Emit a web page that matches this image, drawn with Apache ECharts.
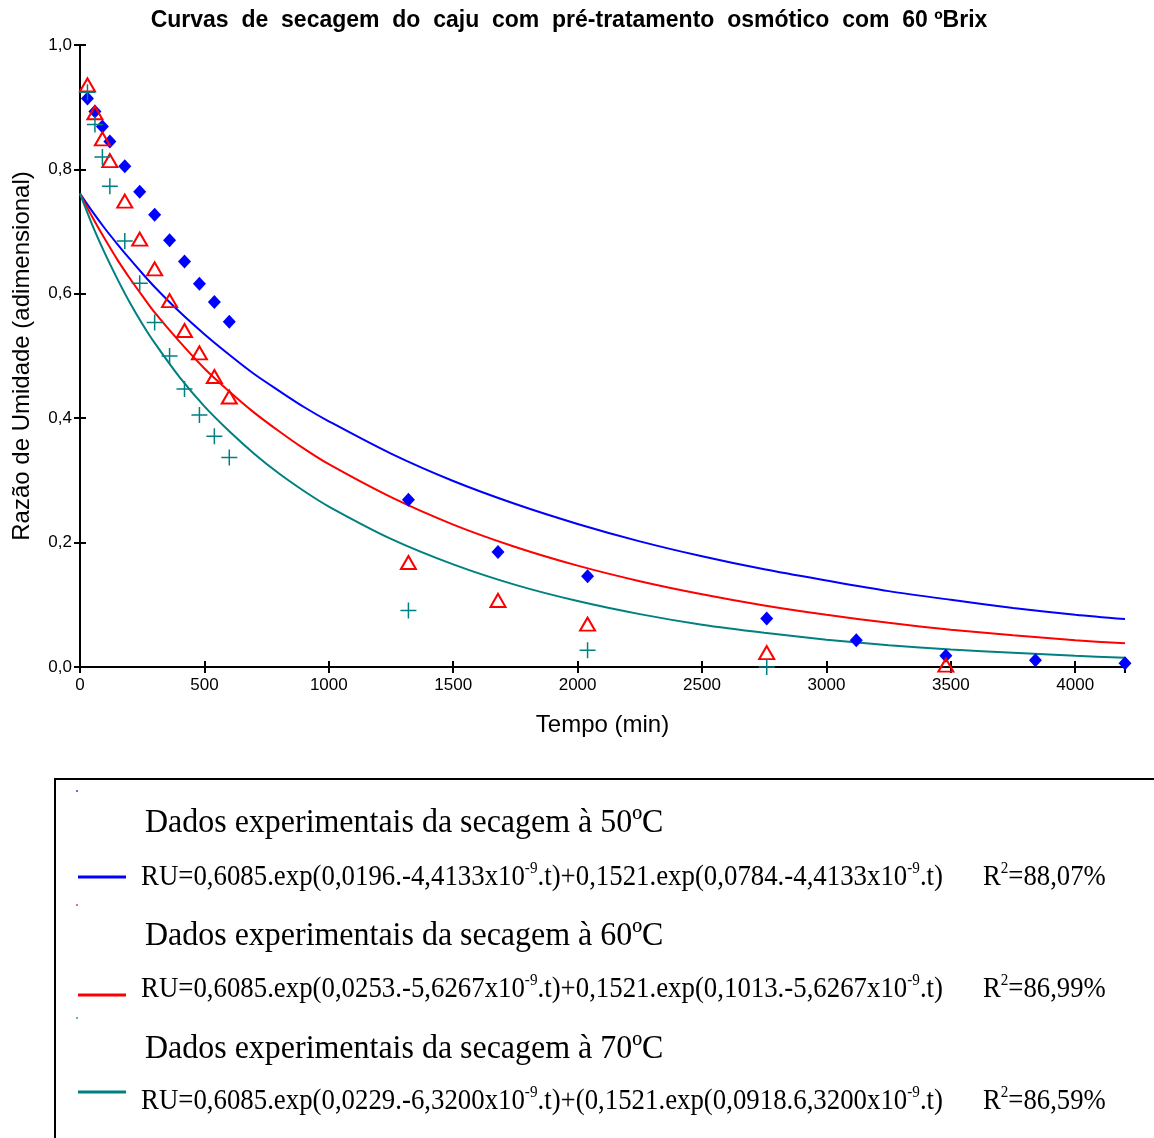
<!DOCTYPE html>
<html>
<head>
<meta charset="utf-8">
<script src="https://cdn.jsdelivr.net/npm/echarts@6/dist/echarts.min.js"></script>
<style>
html,body{margin:0;padding:0;background:#ffffff;}
#c{width:1154px;height:1138px;}
</style>
</head>
<body>
<div id="c"></div>
<script>
const times50 = [30,60,90,120,180,240,300,360,420,480,540,600,1320,1680,2040,2760,3120,3480,3840,4200];
const ru50    = [0.914,0.893,0.869,0.845,0.805,0.764,0.727,0.686,0.652,0.616,0.587,0.555,0.269,0.185,0.146,0.078,0.043,0.018,0.011,0.006];

const times60 = [30,60,90,120,180,240,300,360,420,480,540,600,1320,1680,2040,2760,3480];
const ru60    = [0.936,0.891,0.849,0.814,0.749,0.688,0.640,0.589,0.541,0.505,0.467,0.434,0.168,0.107,0.069,0.023,0.003];

const times70 = [30,60,90,120,180,240,300,360,420,480,540,600,1320,2040,2760];
const ru70    = [0.924,0.872,0.820,0.773,0.685,0.617,0.554,0.500,0.447,0.405,0.371,0.337,0.091,0.027,0.0];

// ---- Fitted curves ----
const curveTimes = [0,50,100,150,200,250,300,400,500,600,700,800,900,1000,1250,1500,1750,2000,2250,2500,2750,3000,3250,3500,3750,4000,4200];
const fit50 = [0.761,0.732,0.705,0.680,0.656,0.633,0.611,0.571,0.535,0.502,0.471,0.444,0.418,0.395,0.343,0.299,0.262,0.230,0.202,0.178,0.157,0.139,0.122,0.108,0.095,0.084,0.077];
const fit60 = [0.761,0.723,0.688,0.655,0.625,0.597,0.570,0.523,0.480,0.443,0.409,0.379,0.351,0.326,0.273,0.229,0.193,0.163,0.138,0.117,0.099,0.084,0.071,0.060,0.051,0.043,0.038];
const fit70 = [0.761,0.710,0.665,0.624,0.586,0.552,0.521,0.466,0.419,0.379,0.343,0.311,0.283,0.258,0.206,0.165,0.132,0.106,0.085,0.068,0.055,0.044,0.035,0.028,0.023,0.018,0.015];

// ---- Texts ----
const titleText = 'Curvas  de  secagem  do  caju  com  pré-tratamento  osmótico  com  60 ºBrix';
const xName = 'Tempo (min)';
const yName = 'Razão de Umidade (adimensional)';
const legendData = ['Dados experimentais da secagem à 50ºC','Dados experimentais da secagem à 60ºC','Dados experimentais da secagem à 70ºC'];
const formulas = [
  ['RU=0,6085.exp(0,0196.-4,4133x10','-9','.t)+0,1521.exp(0,0784.-4,4133x10','-9','.t)'],
  ['RU=0,6085.exp(0,0253.-5,6267x10','-9','.t)+0,1521.exp(0,1013.-5,6267x10','-9','.t)'],
  ['RU=0,6085.exp(0,0229.-6,3200x10','-9','.t)+(0,1521.exp(0,0918.6,3200x10','-9','.t)']
];
const r2Values = ['88,07%','86,99%','86,59%'];
const colors = ['#0000ff','#ff0000','#008080'];

const pairs = (xs, ys) => xs.map((x, i) => [x, ys[i]]);
const sans = "'Liberation Sans', Arial, sans-serif";
const serif = "'Liberation Serif', 'Times New Roman', serif";

const chart = echarts.init(document.getElementById('c'));

const richStyles = {
  a: { fontSize: 30, fontFamily: serif, fill: '#000', lineHeight: 34 },
  s: { fontSize: 17, fontFamily: serif, fill: '#000', lineHeight: 17, verticalAlign: 'top' }
};
function formulaText(parts) {
  return parts.map((p, i) => (i % 2 === 1 ? '{s|' + p + '}' : '{a|' + p + '}')).join('');
}

const legendBlocks = [];
const rowY = [
  { dot: 791, name: 823, line: 877, formula: 877 },
  { dot: 905, name: 936, line: 995, formula: 989 },
  { dot: 1018, name: 1049, line: 1092, formula: 1101 }
];
rowY.forEach((r, i) => {
  legendBlocks.push(
    { type: 'rect', shape: { x: 76, y: r.dot - 1, width: 2, height: 2 }, style: { fill: colors[i], opacity: 0.6 } },
    { type: 'text', x: 145, y: r.name, scaleX: 0.94,
      style: { text: legendData[i], font: '34px ' + serif, fill: '#000', verticalAlign: 'middle' } },
    { type: 'line', shape: { x1: 78, y1: r.line, x2: 126, y2: r.line }, style: { stroke: colors[i], lineWidth: 3 } },
    { type: 'text', x: 141, y: r.formula, scaleX: 0.894,
      style: { text: formulaText(formulas[i]), rich: richStyles, verticalAlign: 'middle' } },
    { type: 'text', x: 983, y: r.formula, scaleX: 0.89,
      style: { text: '{a|R}{s|2}{a|=' + r2Values[i] + '}', rich: richStyles, verticalAlign: 'middle' } }
  );
});

const option = {
  backgroundColor: '#ffffff',
  animation: false,
  title: {
    text: titleText,
    left: 564, top: 4, textAlign: 'center',
    textStyle: { fontFamily: sans, fontSize: 23, fontWeight: 'bold', color: '#000' }
  },
  grid: { left: 80, right: 29, top: 45, bottom: 471, containLabel: false },
  xAxis: [
    {
      type: 'value', min: 0, max: 4200, interval: 500, position: 'bottom',
      name: xName, nameLocation: 'middle', nameGap: 46,
      nameTextStyle: { fontFamily: sans, fontSize: 24, color: '#000' },
      axisLine: { show: true, lineStyle: { color: '#000', width: 2 } },
      axisTick: { show: true, inside: true, length: 6, lineStyle: { color: '#000', width: 2 } },
      axisLabel: { fontFamily: sans, fontSize: 17, color: '#000', margin: 10, showMaxLabel: false,
        formatter: v => String(v) },
      splitLine: { show: false }
    },
    {
      type: 'value', min: 0, max: 4200, interval: 500, position: 'top',
      axisLine: { show: true, lineStyle: { color: '#000', width: 2 } },
      axisTick: { show: true, inside: true, length: 6, lineStyle: { color: '#000', width: 2 } },
      axisLabel: { show: false },
      splitLine: { show: false }
    }
  ],
  yAxis: [
    {
      type: 'value', min: 0, max: 1, interval: 0.2, position: 'left',
      name: yName, nameLocation: 'middle', nameGap: 46,
      nameTextStyle: { fontFamily: sans, fontSize: 24, color: '#000' },
      axisLine: { show: true, lineStyle: { color: '#000', width: 2 } },
      axisTick: { show: true, inside: true, length: 6, lineStyle: { color: '#000', width: 2 } },
      axisLabel: { fontFamily: sans, fontSize: 17, color: '#000', margin: 8,
        formatter: v => v.toFixed(1).replace('.', ',') },
      splitLine: { show: false }
    },
    {
      type: 'value', min: 0, max: 1, interval: 0.2, position: 'right',
      axisLine: { show: true, lineStyle: { color: '#000', width: 2 } },
      axisTick: { show: true, inside: true, length: 6, lineStyle: { color: '#000', width: 2 } },
      axisLabel: { show: false },
      splitLine: { show: false }
    }
  ],
  series: [
    { name: 'fit50', type: 'line', data: pairs(curveTimes, fit50), smooth: 0.3, showSymbol: false,
      lineStyle: { color: colors[0], width: 2 }, z: 2 },
    { name: 'fit60', type: 'line', data: pairs(curveTimes, fit60), smooth: 0.3, showSymbol: false,
      lineStyle: { color: colors[1], width: 2 }, z: 2 },
    { name: 'fit70', type: 'line', data: pairs(curveTimes, fit70), smooth: 0.3, showSymbol: false,
      lineStyle: { color: colors[2], width: 2 }, z: 2 },
    { name: legendData[0], type: 'scatter', data: pairs(times50, ru50), symbol: 'diamond', symbolSize: [13, 14],
      itemStyle: { color: colors[0], opacity: 1 }, z: 3 },
    { name: legendData[1], type: 'scatter', data: pairs(times60, ru60), symbol: 'triangle', symbolSize: [15, 13],
      itemStyle: { color: 'rgba(255,255,255,0)', borderColor: colors[1], borderWidth: 2, opacity: 1 }, z: 3 },
    { name: legendData[2], type: 'scatter', data: pairs(times70, ru70), symbol: 'path://M8,0L8,16M0,8L16,8', symbolSize: 16,
      itemStyle: { color: 'rgba(0,0,0,0)', borderColor: colors[2], borderWidth: 1.5, opacity: 1 }, z: 3 }
  ],
  graphic: [
    { type: 'rect', shape: { x: 55, y: 779, width: 1120, height: 380 },
      style: { fill: 'none', stroke: '#000', lineWidth: 2 }, z: 1 }
  ].concat(legendBlocks)
};
chart.setOption(option);
</script>
</body>
</html>
